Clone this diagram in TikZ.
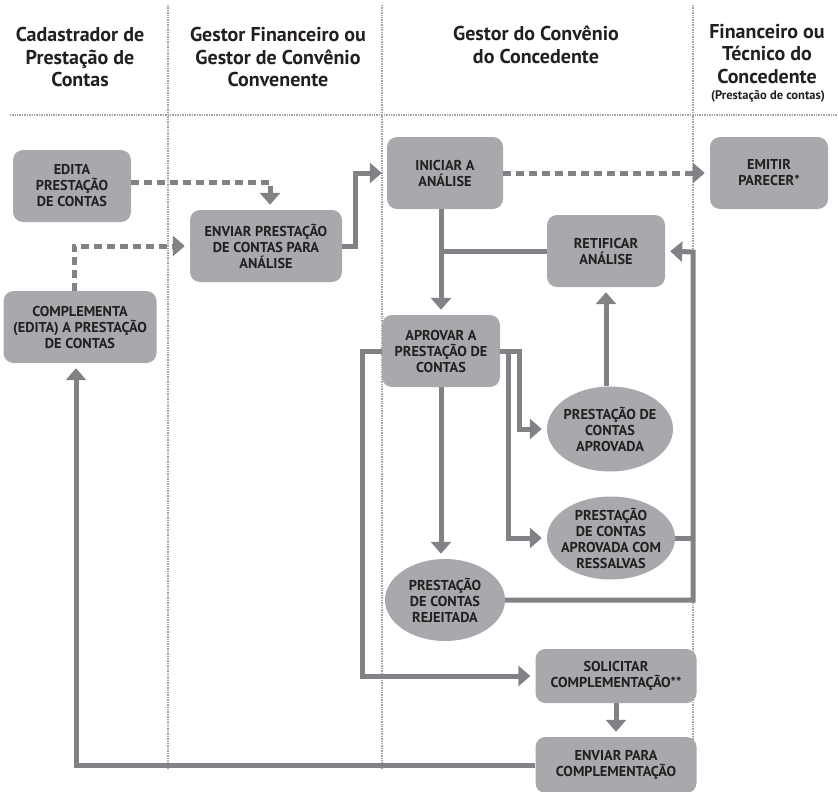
\documentclass[tikz,border=0pt]{standalone}
\usepackage{fontspec}
\setmainfont{PT Sans}
\usetikzlibrary{arrows.meta,shapes.geometric}

\definecolor{boxgray}{HTML}{A7A9AC}
\definecolor{linegray}{HTML}{808285}
\definecolor{lanegray}{HTML}{A3A3A3}
\definecolor{inkblack}{HTML}{231F20}

\newcommand{\boxfont}{\fontsize{14.3}{16}\selectfont\bfseries}
\newcommand{\headfont}{\fontsize{20}{22.5}\selectfont\bfseries}

\begin{document}
\begin{tikzpicture}[x=1pt, y=-1pt,
  box/.style={rectangle, rounded corners=10pt, fill=boxgray, minimum width=118pt,
    minimum height=72pt, inner sep=2pt, align=center, font=\boxfont, text=inkblack},
  oval/.style={ellipse, fill=boxgray, minimum width=126pt, minimum height=85pt,
    inner sep=-6pt, align=center, font=\boxfont, text=inkblack},
  head/.style={align=center, font=\headfont, text=inkblack, inner sep=0pt},
  lane/.style={draw=lanegray, line width=1.2pt, dash pattern=on 1pt off 0.7pt},
  plain/.style={draw=linegray, line width=5pt},
  conn/.style={plain, -{Triangle[length=12pt,width=20pt]}, shorten >=5pt},
  dconn/.style={conn, dash pattern=on 8pt off 5pt}]

  \useasboundingbox (0,0) rectangle (838,792);

  % Swimlane separators
  \foreach \x in {168,382,693} {
    \draw[lane] (\x,5) -- (\x,770);
  }
  \draw[lane] (10,115) -- (838,115);

  % Lane headers
  \node[head] (hcad) at (80,57) {Cadastrador de\\Prestação de\\Contas};
  \node[head] (hgfin) at (278,57) {Gestor Financeiro ou\\Gestor de Convênio\\Convenente};
  \node[head] (hgconv) at (536,45) {Gestor do Convênio\\do Concedente};
  \node[head] (hfin) at (767,54) {Financeiro ou\\Técnico do\\Concedente};
  \node[font=\fontsize{12.5}{13}\selectfont\bfseries, text=inkblack, inner sep=0pt] (hfinsub)
    at (768,96) {(Prestação de contas)};

  % Activities
  \node[box] (edita) at (72,186) {EDITA\\PRESTAÇÃO\\DE CONTAS};
  \node[box, minimum width=152pt] (enviar) at (266,246) {ENVIAR PRESTAÇÃO\\DE CONTAS PARA\\ANÁLISE};
  \node[box, minimum width=153pt] (compl) at (80,327) {COMPLEMENTA\\(EDITA) A PRESTAÇÃO\\DE CONTAS};
  \node[box, minimum width=116pt] (iniciar) at (445,173) {INICIAR A\\ANÁLISE};
  \node[box] (emitir) at (769,173) {EMITIR\\PARECER*};
  \node[box] (retificar) at (606,251) {RETIFICAR\\ANÁLISE};
  \node[box] (aprovar) at (441,351) {APROVAR A\\PRESTAÇÃO DE\\CONTAS};
  \node[box, minimum width=161pt, minimum height=54pt] (solicitar) at (616,676)
    {SOLICITAR\\COMPLEMENTAÇÃO**};
  \node[box, minimum width=161pt, minimum height=56pt] (envcomp) at (616,765)
    {ENVIAR PARA\\COMPLEMENTAÇÃO};

  % Results
  \node[oval] (aprovada) at (610,429) {PRESTAÇÃO DE\\CONTAS\\APROVADA};
  \node[oval, minimum width=128pt, minimum height=83pt] (ressalvas) at (611,538)
    {PRESTAÇÃO\\DE CONTAS\\APROVADA COM\\RESSALVAS};
  \node[oval, minimum width=120pt, minimum height=82pt] (rejeitada) at (445,600)
    {PRESTAÇÃO\\DE CONTAS\\REJEITADA};

  \coordinate (bus) at (693,252);

  % Dashed flows
  \draw[dconn] ([yshift=4pt]edita.east) -| ([xshift=4pt]enviar.north);
  \draw[dconn] ([xshift=-6pt]compl.north) |- (enviar.west);
  \draw[dconn] (iniciar) -- (emitir);

  % Solid flows
  \draw[conn] (enviar.east) -- ++(13,0) |- (iniciar.west);
  \draw[conn] (iniciar.south -| aprovar.north) -- (aprovar.north);
  \draw[plain] (retificar.west) -- (retificar.west -| aprovar.north);
  \draw[conn] (aprovada.north -| retificar.south) -- (retificar.south);
  \draw[conn] (aprovar.east) -- ++(19,0) |- (aprovada.west);
  \draw[conn] (aprovar.east) -- ++(8,0) |- (ressalvas.west);
  \draw[conn] (aprovar.south) -- (aprovar.south |- rejeitada.north);
  \draw[conn] (aprovar.west) -- ++(-19,0) |- (solicitar.west);
  \draw[conn] (rejeitada.east) -| (bus) -- (retificar.east);
  \draw[plain] (ressalvas.east) -- (ressalvas.east -| bus);
  \draw[conn] (solicitar) -- (envcomp);
  \draw[conn] (envcomp.west) -| ([xshift=-4pt]compl.south);

\end{tikzpicture}
\end{document}
